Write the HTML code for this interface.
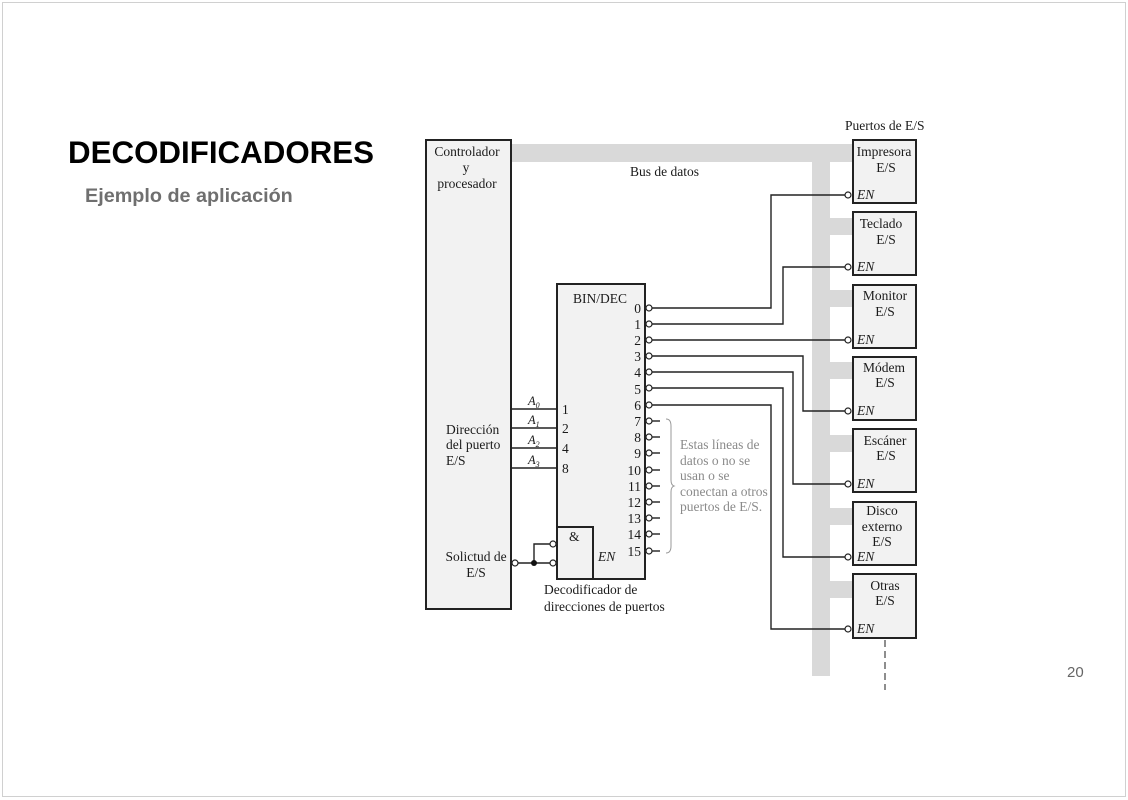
<!DOCTYPE html>
<html><head><meta charset="utf-8"><style>
html,body{margin:0;padding:0;background:#fff;}
body{width:1128px;height:800px;overflow:hidden;position:relative;}
svg{position:absolute;left:0;top:0;}
</style></head><body>
<svg width="1128" height="800" viewBox="0 0 1128 800" xmlns="http://www.w3.org/2000/svg">
<rect x="2.5" y="2.5" width="1123" height="794" fill="#fff" stroke="#d0d0d0" stroke-width="1"/>
<text x="68" y="163" font-family="Liberation Sans, sans-serif" font-weight="bold" font-size="31.3" fill="#000">DECODIFICADORES</text>
<text x="85" y="202" font-family="Liberation Sans, sans-serif" font-weight="bold" font-size="19.8" fill="#6f6f6f">Ejemplo de aplicación</text>
<text x="1067" y="677" font-family="Liberation Sans, sans-serif" font-size="15" fill="#666">20</text>

<!-- bus -->
<g fill="#d9d9d9">
<rect x="511" y="144" width="341" height="18"/>
<rect x="812" y="144" width="18" height="532"/>
<rect x="830" y="218" width="22" height="17"/>
<rect x="830" y="290" width="22" height="17"/>
<rect x="830" y="362" width="22" height="17"/>
<rect x="830" y="435" width="22" height="17"/>
<rect x="830" y="508" width="22" height="17"/>
<rect x="830" y="581" width="22" height="17"/>
</g>

<g font-family="Liberation Serif, serif" font-size="13.5" fill="#1a1a1a">
<!-- controller -->
<rect x="426" y="140" width="85" height="469" fill="#f2f2f2" stroke="#222" stroke-width="2"/>
<text x="467" y="156" text-anchor="middle">Controlador</text>
<text x="466" y="172" text-anchor="middle">y</text>
<text x="467" y="188" text-anchor="middle">procesador</text>
<text x="446" y="434">Dirección</text>
<text x="446" y="449">del puerto</text>
<text x="446" y="465">E/S</text>
<text x="476" y="561" text-anchor="middle">Solictud de</text>
<text x="476" y="577" text-anchor="middle">E/S</text>
<text x="630" y="176">Bus de datos</text>
<text x="845" y="130">Puertos de E/S</text>

<!-- decoder -->
<rect x="557" y="284" width="88" height="295" fill="#f2f2f2" stroke="#222" stroke-width="2"/>
<rect x="557" y="527" width="36" height="52" fill="#f2f2f2" stroke="#222" stroke-width="2"/>
<text x="569" y="541">&amp;</text>
<text x="598" y="561" font-style="italic">EN</text>
<text x="573" y="303">BIN/DEC</text>
<text x="544" y="594">Decodificador de</text>
<text x="544" y="611">direcciones de puertos</text>

<!-- address lines -->
<g stroke="#222" stroke-width="1.4">
<line x1="511" y1="409" x2="557" y2="409"/>
<line x1="511" y1="428" x2="557" y2="428"/>
<line x1="511" y1="448" x2="557" y2="448"/>
<line x1="511" y1="468" x2="557" y2="468"/>
</g>
<g font-style="italic" font-size="12.5">
<text x="528" y="405">A<tspan font-size="8" dy="3">0</tspan></text>
<text x="528" y="424">A<tspan font-size="8" dy="3">1</tspan></text>
<text x="528" y="444">A<tspan font-size="8" dy="3">2</tspan></text>
<text x="528" y="464">A<tspan font-size="8" dy="3">3</tspan></text>
</g>
<text x="562" y="414">1</text>
<text x="562" y="433">2</text>
<text x="562" y="453">4</text>
<text x="562" y="473">8</text>

<!-- enable logic -->
<g stroke="#222" stroke-width="1.4" fill="none">
<line x1="518" y1="563" x2="550" y2="563"/>
<polyline points="534,563 534,544 550,544"/>
</g>
<circle cx="534" cy="563" r="3" fill="#111"/>
<g fill="#fff" stroke="#222" stroke-width="1.2">
<circle cx="515" cy="563" r="3"/>
<circle cx="553" cy="544" r="3"/>
<circle cx="553" cy="563" r="3"/>
</g>

<!-- outputs -->
<g text-anchor="end">
<text x="641" y="313">0</text><text x="641" y="329">1</text><text x="641" y="345">2</text><text x="641" y="361">3</text>
<text x="641" y="377">4</text><text x="641" y="394">5</text><text x="641" y="410">6</text><text x="641" y="426">7</text>
<text x="641" y="442">8</text><text x="641" y="458">9</text><text x="641" y="475">10</text><text x="641" y="491">11</text>
<text x="641" y="507">12</text><text x="641" y="523">13</text><text x="641" y="539">14</text><text x="641" y="556">15</text>
</g>
<g stroke="#222" stroke-width="1.4" fill="none">
<polyline points="652,308 771,308 771,195 845,195"/>
<polyline points="652,324 783,324 783,267 845,267"/>
<polyline points="652,340 845,340"/>
<polyline points="652,356 803,356 803,411 845,411"/>
<polyline points="652,372 793,372 793,484 845,484"/>
<polyline points="652,388 783,388 783,557 845,557"/>
<polyline points="652,405 771,405 771,629 845,629"/>
<line x1="652" y1="421" x2="660" y2="421"/><line x1="652" y1="437" x2="660" y2="437"/>
<line x1="652" y1="453" x2="660" y2="453"/><line x1="652" y1="470" x2="660" y2="470"/>
<line x1="652" y1="486" x2="660" y2="486"/><line x1="652" y1="502" x2="660" y2="502"/>
<line x1="652" y1="518" x2="660" y2="518"/><line x1="652" y1="534" x2="660" y2="534"/>
<line x1="652" y1="551" x2="660" y2="551"/>
</g>
<g fill="#fff" stroke="#222" stroke-width="1.2">
<circle cx="649" cy="308" r="3"/><circle cx="649" cy="324" r="3"/><circle cx="649" cy="340" r="3"/><circle cx="649" cy="356" r="3"/>
<circle cx="649" cy="372" r="3"/><circle cx="649" cy="388" r="3"/><circle cx="649" cy="405" r="3"/><circle cx="649" cy="421" r="3"/>
<circle cx="649" cy="437" r="3"/><circle cx="649" cy="453" r="3"/><circle cx="649" cy="470" r="3"/><circle cx="649" cy="486" r="3"/>
<circle cx="649" cy="502" r="3"/><circle cx="649" cy="518" r="3"/><circle cx="649" cy="534" r="3"/><circle cx="649" cy="551" r="3"/>
</g>
<path d="M666,419 Q671,419 671,426 L671,480 Q671,485 674,486 Q671,487 671,492 L671,546 Q671,553 666,553" fill="none" stroke="#999" stroke-width="1"/>
<g fill="#8a8a8a">
<text x="680" y="449">Estas líneas de</text>
<text x="680" y="465">datos o no se</text>
<text x="680" y="480">usan o se</text>
<text x="680" y="496">conectan a otros</text>
<text x="680" y="511">puertos de E/S.</text>
</g>

<!-- ports -->
<g fill="#f2f2f2" stroke="#222" stroke-width="2">
<rect x="853" y="140" width="63" height="63"/>
<rect x="853" y="212" width="63" height="63"/>
<rect x="853" y="285" width="63" height="63"/>
<rect x="853" y="357" width="63" height="63"/>
<rect x="853" y="429" width="63" height="63"/>
<rect x="853" y="502" width="63" height="63"/>
<rect x="853" y="574" width="63" height="64"/>
</g>
<g fill="#fff" stroke="#222" stroke-width="1.2">
<circle cx="848" cy="195" r="3"/><circle cx="848" cy="267" r="3"/><circle cx="848" cy="340" r="3"/>
<circle cx="848" cy="411" r="3"/><circle cx="848" cy="484" r="3"/><circle cx="848" cy="557" r="3"/><circle cx="848" cy="629" r="3"/>
</g>
<g font-style="italic">
<text x="857" y="199">EN</text><text x="857" y="271">EN</text><text x="857" y="344">EN</text>
<text x="857" y="415">EN</text><text x="857" y="488">EN</text><text x="857" y="561">EN</text><text x="857" y="633">EN</text>
</g>
<g text-anchor="middle">
<text x="884" y="156">Impresora</text><text x="886" y="172">E/S</text>
<text x="881" y="228">Teclado</text><text x="886" y="244">E/S</text>
<text x="885" y="300">Monitor</text><text x="885" y="316">E/S</text>
<text x="884" y="372">Módem</text><text x="885" y="387">E/S</text>
<text x="885" y="445">Escáner</text><text x="886" y="460">E/S</text>
<text x="882" y="515">Disco</text><text x="882" y="531">externo</text><text x="882" y="546">E/S</text>
<text x="885" y="590">Otras</text><text x="885" y="605">E/S</text>
</g>
<line x1="885" y1="640" x2="885" y2="690" stroke="#444" stroke-width="1.2" stroke-dasharray="7,4"/>
</g>
</svg>
</body></html>
